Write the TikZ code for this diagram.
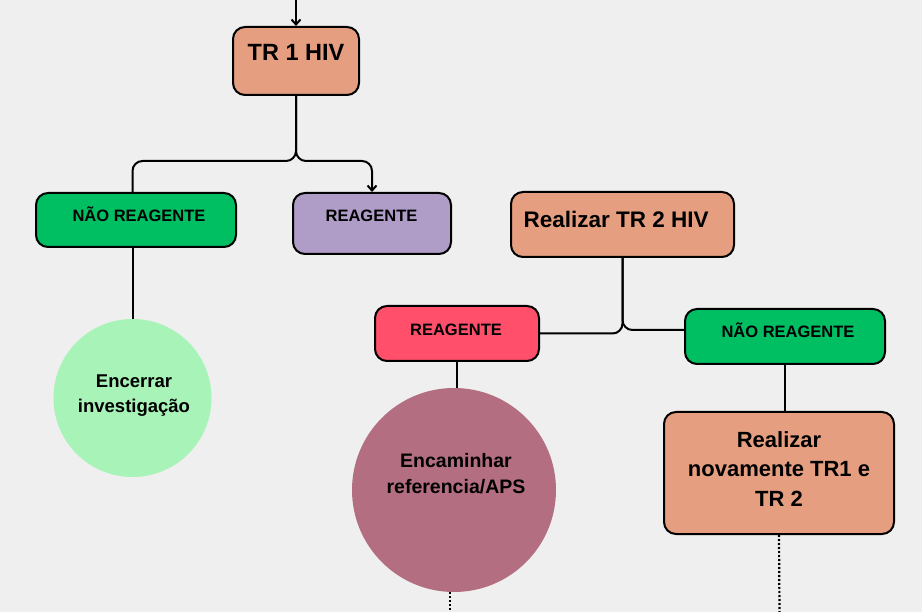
\documentclass[tikz,border=0pt]{standalone}
\usepackage{fontspec}
\setmainfont{Liberation Sans}
\usetikzlibrary{arrows.meta}

\definecolor{bg}{HTML}{EFEFEF}
\definecolor{salmon}{HTML}{E59F80}
\definecolor{okgreen}{HTML}{00BF63}
\definecolor{lilac}{HTML}{AF9DC8}
\definecolor{alert}{HTML}{FF4F6B}
\definecolor{mint}{HTML}{A8F3B8}
\definecolor{mauve}{HTML}{B36E82}

\begin{document}
\begin{tikzpicture}[x=1pt, y=-1pt,
  box/.style={draw=black, line width=2pt, rounded corners=12pt, inner sep=0pt},
  disc/.style={circle, inner sep=0pt},
  lbl/.style={font=\bfseries, align=center, inner sep=0pt, text=black},
  link/.style={line width=2pt, rounded corners=10pt},
  tip/.style={-{Straight Barb[length=5pt, width=9pt]}},
  dots/.style={line width=2.2pt, dash pattern=on 2pt off 2pt}
]
\useasboundingbox (0,0) rectangle (922,612);
\fill[bg] (0,0) rectangle (922,612);

% shapes
\node[box, fill=salmon, minimum width=126pt, minimum height=68pt] (tr1) at (296,61) {};
\node[box, fill=okgreen, minimum width=200pt, minimum height=54pt] (nr1) at (136,220) {};
\node[box, fill=lilac, minimum width=158pt, minimum height=61pt] (re1) at (372,223.5) {};
\node[box, fill=salmon, minimum width=223pt, minimum height=65pt] (tr2) at (622.5,224.5) {};
\node[box, fill=alert, minimum width=164pt, minimum height=55pt] (re2) at (457,333.5) {};
\node[box, fill=okgreen, minimum width=200pt, minimum height=55pt] (nr2) at (785,336.5) {};
\node[box, fill=salmon, minimum width=230pt, minimum height=122pt] (again) at (779,473) {};
\node[disc, fill=mint, minimum size=158pt] (enc) at (132.5,398) {};
\node[disc, fill=mauve, minimum size=204pt] (ref) at (454,490) {};

% labels
\node[lbl, font=\bfseries\fontsize{23.5}{27}\selectfont, anchor=base] (tr1txt) at (296,60.5) {TR 1 HIV};
\node[lbl, font=\bfseries\fontsize{16.5}{20}\selectfont, anchor=base] (nr1txt) at (139,222) {NÃO REAGENTE};
\node[lbl, font=\bfseries\fontsize{16.5}{20}\selectfont, anchor=base] (re1txt) at (371.5,222) {REAGENTE};
\node[lbl, font=\bfseries\fontsize{22.5}{27}\selectfont, anchor=base west] (tr2txt) at (523.5,228) {Realizar TR 2 HIV};
\node[lbl, font=\bfseries\fontsize{16.5}{20}\selectfont, anchor=base] (re2txt) at (456,336) {REAGENTE};
\node[lbl, font=\bfseries\fontsize{16.5}{20}\selectfont, anchor=base] (nr2txt) at (788,338) {NÃO REAGENTE};
\node[lbl, font=\bfseries\fontsize{18.5}{24.5}\selectfont, anchor=north] (enctxt) at (134,375) {Encerrar\\investigação};
\node[lbl, font=\bfseries\fontsize{19.5}{26}\selectfont, anchor=north] (reftxt) at (456,453) {Encaminhar\\referencia/APS};
\node[lbl, font=\bfseries\fontsize{22}{29.5}\selectfont, anchor=north] (againtxt) at (779,431) {Realizar\\novamente TR1 e\\TR 2};

% loose ends
\coordinate (topin) at (296,0);
\coordinate (refout) at (450,612);
\coordinate (againout) at (779.5,612);

% connectors
\draw[link, tip] (topin) -- (tr1.north);
\draw[link] (tr1.south) -- (296,161) -| (enc.north |- nr1.north);
\draw[link, tip] (tr1.south) -- (296,161) -| (re1.north);
\draw[link] (enc.north |- nr1.south) -- (enc.north);

\draw[link] (tr2.south) |- (re2.east);
\draw[link] (tr2.south) |- ([yshift=6.5pt]nr2.west);
\draw[link] (re2.south) -- (re2.south |- ref.north);
\draw[link] (nr2.south) -- (nr2.south |- again.north);

\draw[dots] ([xshift=-4pt]ref.south) -- (refout);
\draw[dots] (again.south) -- (againout);
\end{tikzpicture}
\end{document}
